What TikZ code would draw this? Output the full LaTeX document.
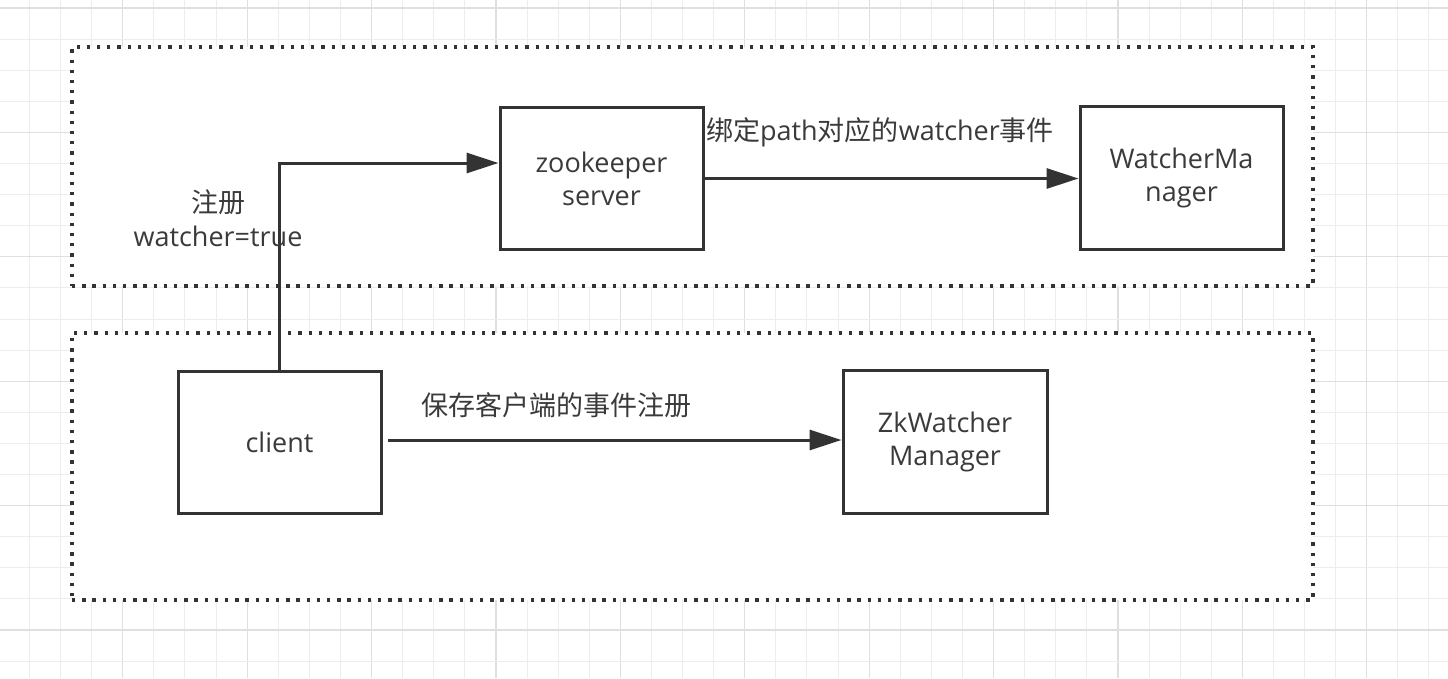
\documentclass[tikz,border=0pt]{standalone}
\usepackage{fontspec}
\setmainfont{Open Sans}
\newfontfamily\cjk{Noto Sans CJK SC}
\usetikzlibrary{arrows.meta}
\definecolor{dark}{HTML}{333333}
\definecolor{txt}{HTML}{3A3A3A}
\definecolor{gridminor}{HTML}{EDEDED}
\definecolor{gridmajor}{HTML}{DFDFDF}
\newcommand{\nodefont}{\fontsize{27}{33}\selectfont}
\tikzset{
  procbox/.style={draw=dark, line width=3pt, fill=white, minimum width=203pt,
    minimum height=142pt, inner sep=0pt, align=center, text=txt, font=\nodefont},
  groupbox/.style={draw=dark, line width=3.3pt, dash pattern=on 3.3pt off 6.9pt,
    fill=white, inner sep=0pt, minimum width=1241pt},
  lbl/.style={text=txt, font=\nodefont, inner sep=0pt, align=center},
  conn/.style={draw=dark, line width=3pt, -{Triangle[length=32pt,width=20pt]}}
}
\begin{document}
\begin{tikzpicture}[x=1pt,y=-1pt]
\useasboundingbox (0,0) rectangle (1448,678);
\fill[white] (0,0) rectangle (1448,678);
% grid
\foreach \i in {-3,...,42}{
  \pgfmathsetmacro\xx{122.7+31.1*\i}
  \pgfmathtruncatemacro\mm{mod(\i+400,4)}
  \ifnum\mm=0 \draw[gridmajor,line width=1.2pt] (\xx,0) -- (\xx,678);
  \else \draw[gridminor,line width=1pt] (\xx,0) -- (\xx,678); \fi
}
\foreach \j in {0,...,21}{
  \pgfmathsetmacro\yy{8+31.1*\j}
  \pgfmathtruncatemacro\mm{mod(\j,4)}
  \ifnum\mm=0 \draw[gridmajor,line width=1.2pt] (0,\yy) -- (1448,\yy);
  \else \draw[gridminor,line width=1pt] (0,\yy) -- (1448,\yy); \fi
}
% groups
\node[groupbox, minimum height=239pt] (topgrp) at (692.5,166.5) {};
\node[groupbox, minimum height=267pt] (botgrp) at (692.5,466.5) {};
% boxes
\node[procbox] (zk) at (601.5,178.5) {zookeeper\\server};
\node[procbox, minimum height=143pt] (wm) at (1181.5,177.5) {WatcherMa\\nager};
\node[procbox] (client) at (279.5,442) {client};
\node[procbox, minimum width=204pt, minimum height=143pt] (zkw) at (945,441.5) {ZkWatcher\\Manager};
% connectors
\draw[conn] (client.north) |- (zk.west |- 0,163);
\draw[conn] (zk.east) -- (wm.west |- zk.east);
\coordinate (cstart) at (388,440);
\draw[conn] (cstart) -- (zkw.west |- cstart);
% labels
\node[lbl] (l1a) at (218,202) {\cjk 注册};
\node[lbl] (l1b) at (218,236) {watcher=true};
\node[lbl] (l2) at (880,132) {{\cjk 绑定}path{\cjk 对应的}watcher{\cjk 事件}};
\node[lbl] (l3) at (556,405) {\cjk 保存客户端的事件注册};
\end{tikzpicture}
\end{document}
